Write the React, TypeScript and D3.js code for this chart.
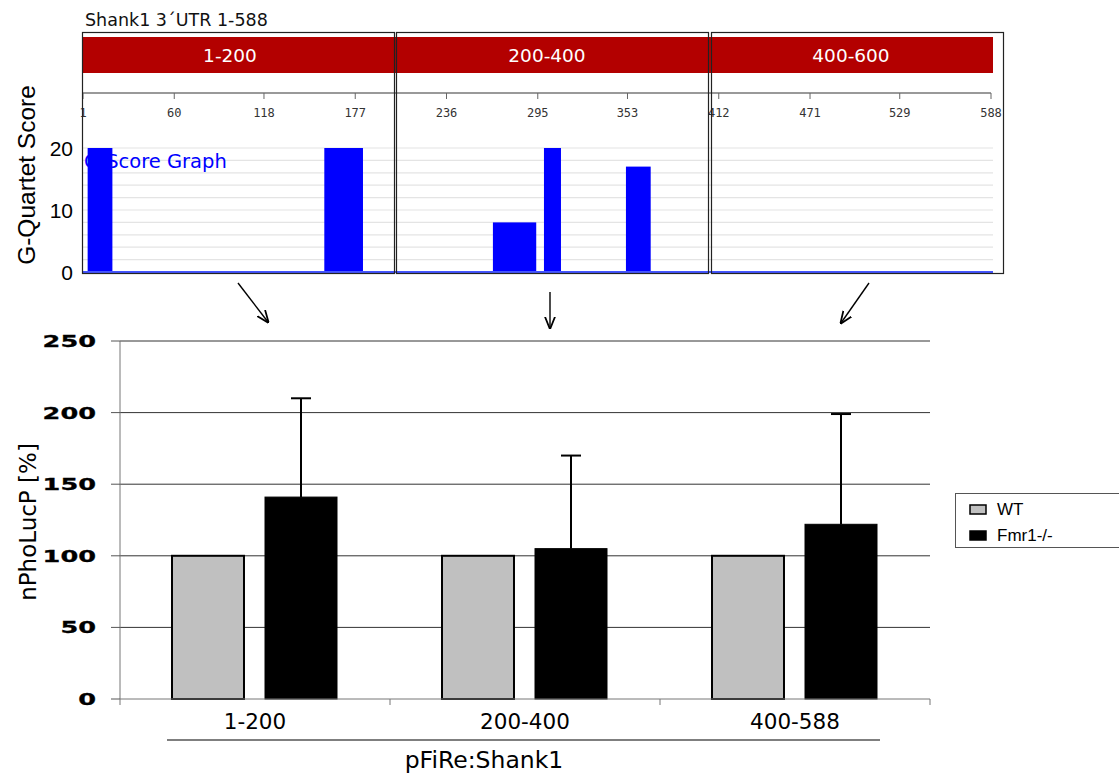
import React from 'react';
import * as d3 from 'd3';

// top panel: G-quartet score track
const regionLabels = ['1-200', '200-400', '400-600'];
const seqTicks = [1, 60, 118, 177, 236, 295, 353, 412, 471, 529, 588];
const gStart = [4, 157, 266, 299, 352];
const gEnd = [20, 182, 294, 310, 368];
const gScore = [20, 20, 8, 20, 17];
const gTickLabels = [0, 10, 20];

// bottom panel: reporter assay
const categories = ['1-200', '200-400', '400-588'];
const series = ['WT', 'Fmr1-/-'];
const wtValues = [100, 100, 100];
const fmrValues = [141, 105, 122];
const fmrErrors = [69, 65, 77];
const yTicks = [0, 50, 100, 150, 200, 250];

const W = 1119;
const H = 776;
const verdana = 'DejaVu Sans, Verdana, sans-serif';
const arial = 'Liberation Sans, Arial, sans-serif';

const App = () => {
  // top scales
  const xSeq = d3.scaleLinear().domain([1, 588]).range([83, 991]);
  const yG = d3.scaleLinear().domain([0, 20]).range([272, 148]);
  const gGrid = d3.range(2, 21, 2);
  const boxes = [
    [82, 394],
    [396, 708],
    [711, 1003],
  ];
  const labelX = [230, 547, 851];

  // bottom scales
  const x = d3.scaleBand().domain(categories).range([120, 930]);
  const xs = d3.scaleBand().domain(series).range([52, 217]).paddingInner(0.226);
  const y = d3.scaleLinear().domain([0, 250]).range([699, 341]);

  const arrows = [
    [238, 283, 268, 322],
    [550, 292, 550, 328],
    [869, 283, 841, 323],
  ];

  return (
    <svg width={W} height={H} style={{ position: 'absolute', left: 0, top: 0 }}>
      <defs>
        <marker id="ah" viewBox="0 0 10 10" refX="9" refY="5" markerWidth="9" markerHeight="9" orient="auto">
          <path d="M0,1 L10,5 L0,9" fill="none" stroke="#000" strokeWidth="1.4" />
        </marker>
      </defs>
      <rect width={W} height={H} fill="#fff" />

      {/* ---- top panel ---- */}
      <text x={85} y={26} fontFamily={verdana} fontSize={17.5} fill="#111">
        Shank1 3´UTR 1-588
      </text>
      <rect x={83} y={37} width={910} height={36} fill="#b30000" />
      {regionLabels.map((r, i) => (
        <text key={r} x={labelX[i]} y={62} textAnchor="middle" fontFamily={verdana} fontSize={18.5} fill="#fff">
          {r}
        </text>
      ))}
      <line x1={83} x2={991} y1={93} y2={93} stroke="#777" strokeWidth={1.5} />
      {seqTicks.map((t) => (
        <g key={t}>
          <line x1={xSeq(t)} x2={xSeq(t)} y1={93} y2={99} stroke="#666" />
          <text x={xSeq(t)} y={117} textAnchor="middle" fontFamily="DejaVu Sans Mono, monospace" fontSize={12} fill="#333">
            {t}
          </text>
        </g>
      ))}
      {gGrid.map((g) => (
        <line key={g} x1={83} x2={993} y1={yG(g)} y2={yG(g)} stroke="#e4e4e4" strokeWidth={1.2} />
      ))}
      <text x={84} y={168} fontFamily={verdana} fontSize={19.5} fill="#0000ff">
        G-Score Graph
      </text>
      {gScore.map((s, i) => (
        <rect
          key={i}
          x={xSeq(gStart[i])}
          y={yG(s)}
          width={xSeq(gEnd[i]) - xSeq(gStart[i])}
          height={yG(0) - yG(s)}
          fill="#0000ff"
        />
      ))}
      <line x1={83} x2={993} y1={272} y2={272} stroke="#4455ff" strokeWidth={2} />
      {boxes.map(([a, b], i) => (
        <rect key={i} x={a + 0.5} y={32.5} width={b - a} height={241} fill="none" stroke="#222" strokeWidth={1.2} />
      ))}
      {gTickLabels.map((t) => (
        <text key={t} x={73} y={yG(t) + 8} textAnchor="end" fontFamily={arial} fontSize={21} fill="#000">
          {t}
        </text>
      ))}
      <text
        transform="translate(35,175) rotate(-90)"
        textAnchor="middle"
        fontFamily={arial}
        fontSize={24.5}
        fill="#000"
      >
        G-Quartet Score
      </text>

      {/* arrows */}
      {arrows.map(([x1, y1, x2, y2], i) => (
        <line key={i} x1={x1} y1={y1} x2={x2} y2={y2} stroke="#000" strokeWidth={1.4} markerEnd="url(#ah)" />
      ))}

      {/* ---- bottom panel ---- */}
      {yTicks.slice(1).map((t) => (
        <line key={t} x1={120} x2={930} y1={y(t)} y2={y(t)} stroke="#333" strokeWidth={1} />
      ))}
      <line x1={120} x2={120} y1={341} y2={699} stroke="#777" />
      {yTicks.map((t) => (
        <g key={t}>
          <line x1={111} x2={120} y1={y(t)} y2={y(t)} stroke="#555" />
          <g transform={`translate(96,${y(t) + 6}) scale(1.55,1)`}>
            <text x={0} y={0} textAnchor="end" fontFamily={verdana} fontSize={16.5} fontWeight={600} fill="#000" stroke="#000" strokeWidth={0.3}>
              {t}
            </text>
          </g>
        </g>
      ))}
      <text
        transform="translate(36,522) rotate(-90)"
        textAnchor="middle"
        fontFamily={verdana}
        fontSize={23}
        fill="#000"
      >
        nPhoLucP [%]
      </text>

      {categories.map((c, i) => {
        const x0 = x(c) as number;
        const wx = x0 + (xs('WT') as number);
        const fx = x0 + (xs('Fmr1-/-') as number);
        const bw = xs.bandwidth();
        const cx = fx + bw / 2;
        return (
          <g key={c}>
            <rect x={wx} y={y(wtValues[i])} width={bw} height={y(0) - y(wtValues[i])} fill="#c0c0c0" stroke="#000" strokeWidth={2} />
            <line x1={cx} x2={cx} y1={y(fmrValues[i])} y2={y(fmrValues[i] + fmrErrors[i])} stroke="#000" strokeWidth={2} />
            <line x1={cx - 10} x2={cx + 10} y1={y(fmrValues[i] + fmrErrors[i])} y2={y(fmrValues[i] + fmrErrors[i])} stroke="#000" strokeWidth={2} />
            <rect x={fx} y={y(fmrValues[i])} width={bw} height={y(0) - y(fmrValues[i])} fill="#000" stroke="#000" strokeWidth={1} />
            <text x={x0 + x.bandwidth() / 2} y={729} textAnchor="middle" fontFamily={verdana} fontSize={21.5} fill="#000">
              {c}
            </text>
          </g>
        );
      })}
      <line x1={120} x2={930} y1={699} y2={699} stroke="#777" />
      {[...categories.map((c) => x(c) as number), 930].map((t, i) => (
        <line key={i} x1={t} x2={t} y1={699} y2={705} stroke="#777" />
      ))}
      <line x1={167} x2={880} y1={740} y2={740} stroke="#000" strokeWidth={1.2} />
      <text x={484} y={768} textAnchor="middle" fontFamily={verdana} fontSize={23.5} fill="#000">
        pFiRe:Shank1
      </text>

      {/* legend */}
      <rect x={955.5} y={493.5} width={170} height={54} fill="#fff" stroke="#555" />
      {series.map((s, i) => (
        <g key={s}>
          <rect x={970} y={505 + i * 26} width={16} height={9} fill={i === 0 ? '#c0c0c0' : '#000'} stroke="#000" strokeWidth={1.5} />
          <text x={997} y={515 + i * 26} fontFamily={arial} fontSize={17} fill="#000">
            {s}
          </text>
        </g>
      ))}
    </svg>
  );
};

export default App;
